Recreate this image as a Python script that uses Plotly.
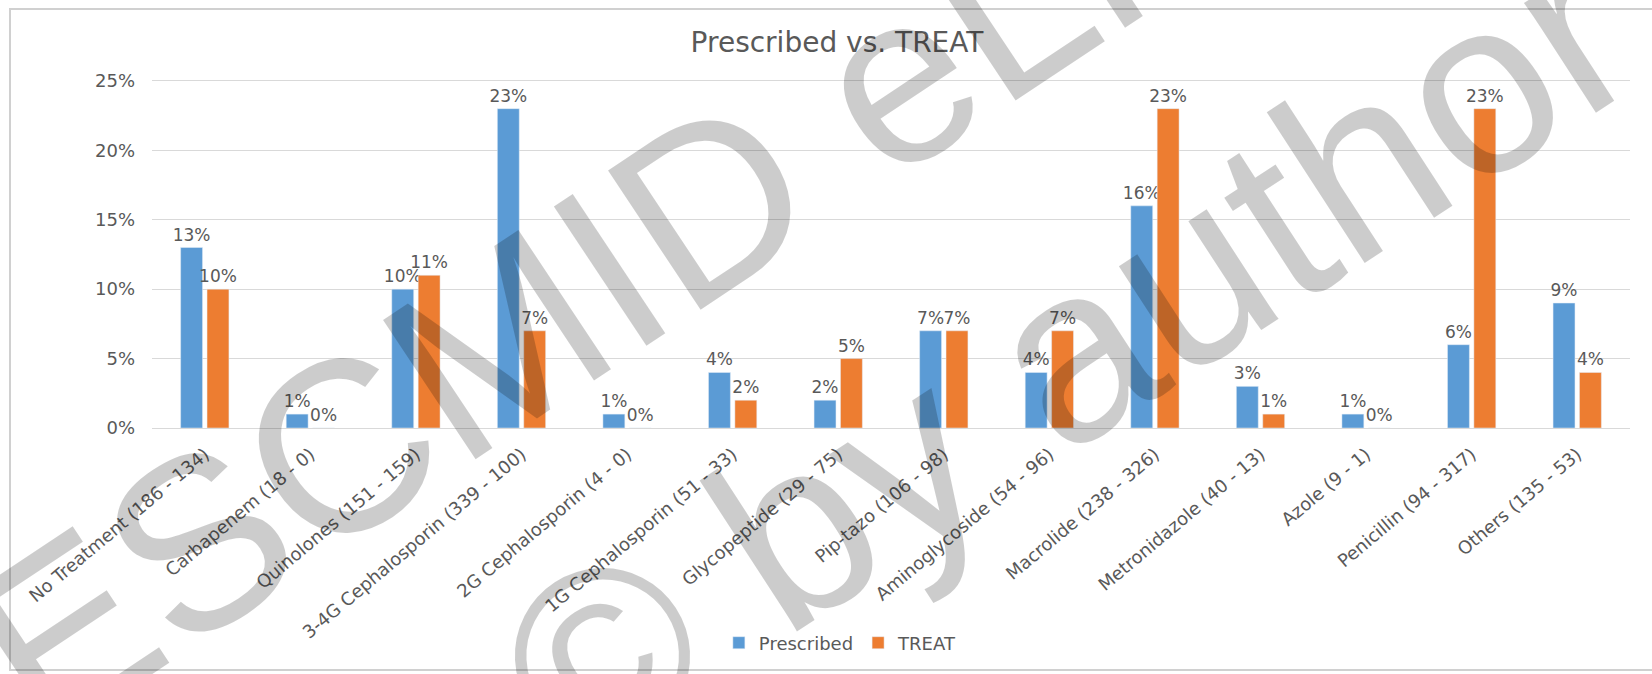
import plotly.graph_objects as go

categories = [
    "No Treatment (186 - 134)", "Carbapenem (18 - 0)", "Quinolones (151 - 159)",
    "3-4G Cephalosporin (339 - 100)", "2G Cephalosporin (4 - 0)",
    "1G Cephalosporin (51 - 33)", "Glycopeptide (29 - 75)", "Pip-tazo (106 - 98)",
    "Aminoglycoside (54 - 96)", "Macrolide (238 - 326)", "Metronidazole (40 - 13)",
    "Azole (9 - 1)", "Penicillin (94 - 317)", "Others (135 - 53)",
]
prescribed = [13, 1, 10, 23, 1, 4, 2, 7, 4, 16, 3, 1, 6, 9]
treat = [10, 0, 11, 7, 0, 2, 5, 7, 7, 23, 1, 0, 23, 4]
y_ticks = [0, 5, 10, 15, 20, 25]

W, H = 1652, 674
ML, MR, MT, MB = 152, 22, 67, 246
PW, PH = W - ML - MR, H - MT - MB

GREY = "#595959"
FONT = "DejaVu Sans"

def px2paper(x, y):
    return (x - ML) / PW, (H - MB - y) / PH

fig = go.Figure()
for name, vals, col in [("Prescribed", prescribed, "#5B9BD5"), ("TREAT", treat, "#ED7D31")]:
    fig.add_trace(go.Bar(
        name=name, x=categories, y=vals, marker_color=col,
        text=[f"{v}%" for v in vals], textposition="outside", cliponaxis=False,
        constraintext="none", textfont=dict(family=FONT, size=17, color=GREY),
        hoverinfo="x+y",
    ))

# watermark
wm = [("ESCMID eLibrary", 783, 153, -33.6, 243), ("\u00a9 by author", 1065, 355, -33.0, 248)]
for txt, cx, cy, ang, sz in wm:
    ax, ay = px2paper(cx, cy)
    fig.add_annotation(text=txt, x=ax, y=ay, xref="paper", yref="paper",
                       xanchor="center", yanchor="middle",
                       showarrow=False, textangle=ang,
                       font=dict(family="Liberation Sans", size=sz,
                                 color="rgba(0,0,0,0.2)"))

# chart border
bx0, by0 = px2paper(10, 670)
bx1, by1 = px2paper(W + 10, 9)
fig.add_shape(type="rect", xref="paper", yref="paper", x0=bx0, x1=bx1, y0=by0, y1=by1,
              line=dict(color="#d0d0d0", width=2), fillcolor="rgba(0,0,0,0)", layer="below")

fig.update_layout(
    width=W, height=H,
    margin=dict(l=ML, r=MR, t=MT, b=MB, autoexpand=False),
    paper_bgcolor="white", plot_bgcolor="white",
    barmode="group", bargap=0.5, bargroupgap=0.17,
    title=dict(text="Prescribed vs. TREAT", x=837 / W, xref="container", xanchor="center",
               y=1 - 42 / H, yref="container", yanchor="middle",
               font=dict(family=FONT, size=28, color=GREY)),
    legend=dict(orientation="h", x=0.509, xref="container", xanchor="center",
                y=1 - 643 / H, yref="container", yanchor="middle",
                font=dict(family=FONT, size=18, color=GREY)),
    xaxis=dict(type="category", tickangle=-40, showgrid=False, showline=True,
               linecolor="#d9d9d9", linewidth=1, ticks="", automargin=False,
               ticklabelstandoff=8,
               tickfont=dict(family=FONT, size=18, color=GREY)),
    yaxis=dict(range=[0, 26], tickvals=y_ticks, ticktext=[f"{v}%" for v in y_ticks],
               showgrid=True, gridcolor="#d9d9d9", zeroline=False, showline=False,
               ticks="", ticklabelstandoff=16, automargin=False,
               tickfont=dict(family=FONT, size=18, color=GREY)),
    showlegend=True,
)

fig.write_html("out.html")
